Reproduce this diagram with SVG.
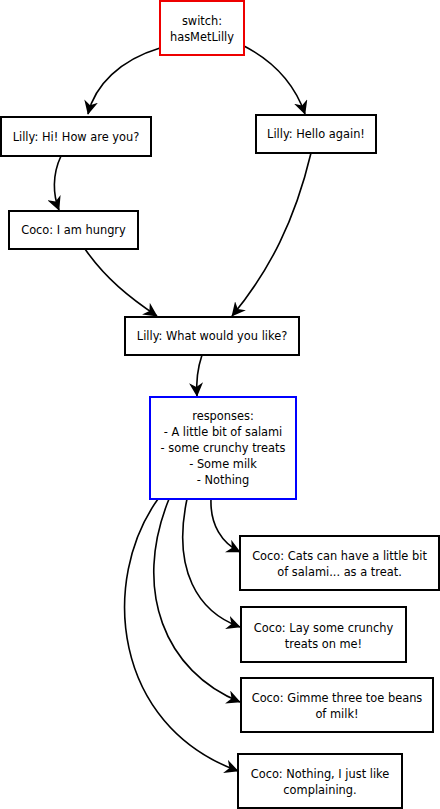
<svg xmlns="http://www.w3.org/2000/svg" width="440" height="809" viewBox="0 0 440 809">
<defs>
<style>
.n rect{fill:#fff;stroke:#000;stroke-width:2}
#switch rect{stroke:#e00}
#responses rect{stroke:#00f}
text{font-family:"DejaVu Sans",Verdana,sans-serif;font-size:11.4px;fill:#000;text-anchor:middle}
.c path{fill:none;stroke:#000;stroke-width:1.6;marker-end:url(#arr)}
</style>
<marker id="arr" viewBox="0 0 10 10" refX="9.5" refY="5" markerWidth="14" markerHeight="14" markerUnits="userSpaceOnUse" orient="auto">
<path d="M0,0 L10,5 L0,10 L3,5 z" fill="#000"/>
</marker>
</defs>
<g class="c" id="connectors">
<path d="M160,48 C120,60 95,85 88,114"/>
<path d="M244,46 C275,62 295,85 305,114"/>
<path d="M61,156 C52,175 53,195 59,210"/>
<path d="M85,249 C105,278 130,298 157,316"/>
<path d="M311,153 C295,220 270,270 232,316"/>
<path d="M202,355 C197,370 196,382 197,396"/>
<path d="M211,499 C210,525 222,543 240,552"/>
<path d="M187,499 C172,570 198,612 240,627"/>
<path d="M169,499 C132,590 165,672 240,702"/>
<path d="M158,499 C100,580 112,725 238,771"/>
</g>
<g class="n" id="switch"><rect x="160" y="1" width="84" height="54"/><text x="202" y="25">switch:</text><text x="202" y="41">hasMetLilly</text></g>
<g class="n" id="hi"><rect x="1" y="117" width="150" height="39"/><text x="76" y="141">Lilly: Hi! How are you?</text></g>
<g class="n" id="hello"><rect x="256" y="115" width="120" height="38"/><text x="316" y="138">Lilly: Hello again!</text></g>
<g class="n" id="hungry"><rect x="9" y="211" width="129" height="38"/><text x="73.5" y="234">Coco: I am hungry</text></g>
<g class="n" id="what"><rect x="125" y="317" width="174" height="38"/><text x="212" y="340">Lilly: What would you like?</text></g>
<g class="n" id="responses"><rect x="150" y="397" width="146" height="102"/>
<text x="223" y="420">responses:</text><text x="223" y="436">- A little bit of salami</text><text x="223" y="452">- some crunchy treats</text><text x="223" y="468">- Some milk</text><text x="223" y="484">- Nothing</text></g>
<g class="n" id="cats"><rect x="240" y="536" width="199" height="54"/><text x="339.5" y="560">Coco: Cats can have a little bit</text><text x="339.5" y="576">of salami... as a treat.</text></g>
<g class="n" id="lay"><rect x="241" y="607" width="165" height="55"/><text x="323.5" y="632">Coco: Lay some crunchy</text><text x="323.5" y="648">treats on me!</text></g>
<g class="n" id="gimme"><rect x="241" y="678" width="192" height="54"/><text x="337" y="702">Coco: Gimme three toe beans</text><text x="337" y="718">of milk!</text></g>
<g class="n" id="nothing"><rect x="238" y="754" width="164" height="54"/><text x="320" y="778">Coco: Nothing, I just like</text><text x="320" y="794">complaining.</text></g>
</svg>
